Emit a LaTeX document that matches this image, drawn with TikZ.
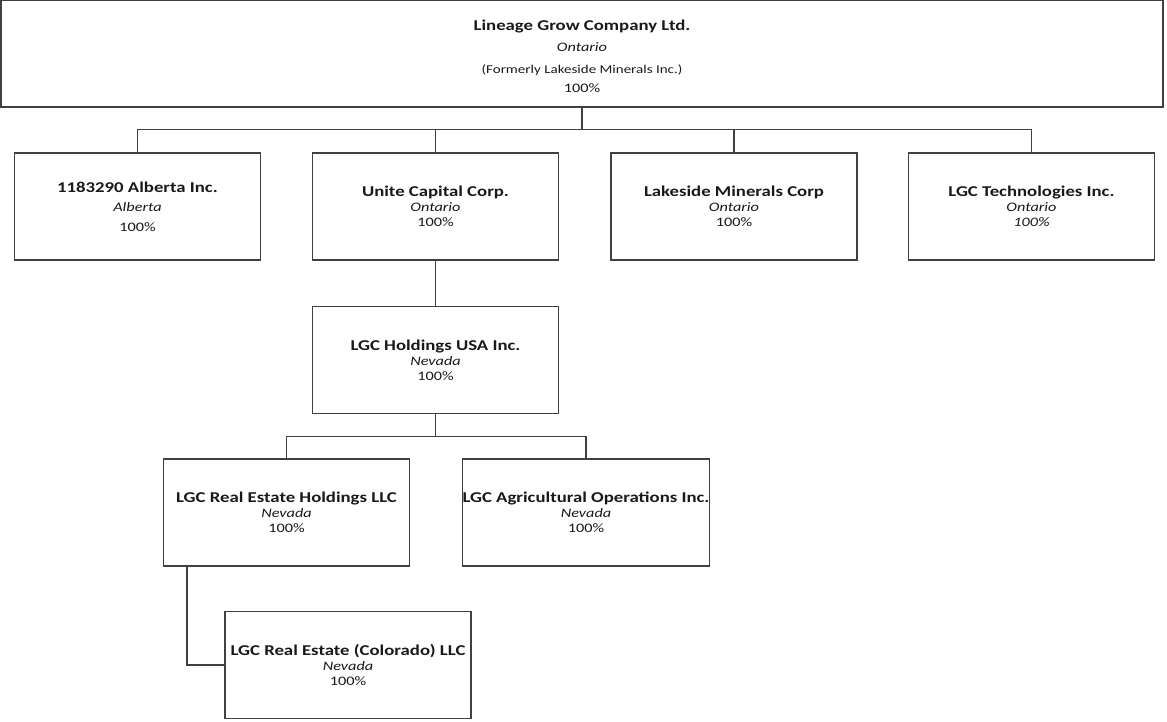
\documentclass[tikz,border=0pt]{standalone}
\usepackage{fontspec}
\setmainfont{Carlito}[FakeStretch=1.25]
\usepackage{tikz}
\usetikzlibrary{positioning}

\newcommand{\firm}[3]{{\bfseries\fontsize{15}{17}\selectfont #1}\\ \textit{#2}\\ #3}

\begin{document}
\begin{tikzpicture}[x=1pt, y=-1pt,
  box/.style={draw=black!75, line width=1.1pt, minimum width=246pt, minimum height=107pt,
    align=center, inner sep=0pt, text=black!90, font=\fontsize{13}{15}\selectfont},
  link/.style={draw=black!75, line width=1.1pt}]
\useasboundingbox (0,0) rectangle (1167,721);

% parent
\node[box, minimum width=1162pt] (lgc) at (582,53.5)
  {\rule{0pt}{17pt}{\bfseries\fontsize{15}{21}\selectfont Lineage Grow Company Ltd.}\\[6pt]
   \textit{Ontario}\\[7pt]
   {\fontsize{12}{18}\selectfont (Formerly Lakeside Minerals Inc.)}\\[4pt]
   100\%};

% first tier
\node[box] (alberta) at (137.5,206.5)
  {{\bfseries\fontsize{15}{17}\selectfont 1183290 Alberta Inc.}\\[4pt] \textit{Alberta}\\[5pt] 100\%};
\node[box] (unite) at (435.5,206.5) {\firm{Unite Capital Corp.}{Ontario}{100\%}};
\node[box] (lakeside) at (734,206.5) {\firm{Lakeside Minerals Corp}{Ontario}{100\%}};
\node[box] (tech) at (1031.5,206.5) {\firm{LGC Technologies Inc.}{Ontario}{\textit{100\%}}};

\foreach \n in {alberta,unite,lakeside,tech}
  \draw[link] (lgc.south) |- ([yshift=23pt]\n.north) -- (\n.north);

% usa
\node[box] (usa) at (435.5,360) {\firm{LGC Holdings USA Inc.}{Nevada}{100\%}};
\draw[link] (unite.south) -- (usa.north);

\node[box] (estate) at (286.5,512.5) {\firm{LGC Real Estate Holdings LLC}{Nevada}{100\%}};
\node[box] (agri) at (586,512.5) {\firm{LGC Agricultural Operations Inc.}{Nevada}{100\%}};
\foreach \n in {estate,agri}
  \draw[link] (usa.south) |- ([yshift=22pt]\n.north) -- (\n.north);

\node[box] (colorado) at (348,665) {\firm{LGC Real Estate (Colorado) LLC}{Nevada}{100\%}};
\coordinate (tap) at ([xshift=-99.5pt]estate.south);
\draw[link] (tap) |- (colorado.west);
\end{tikzpicture}
\end{document}
